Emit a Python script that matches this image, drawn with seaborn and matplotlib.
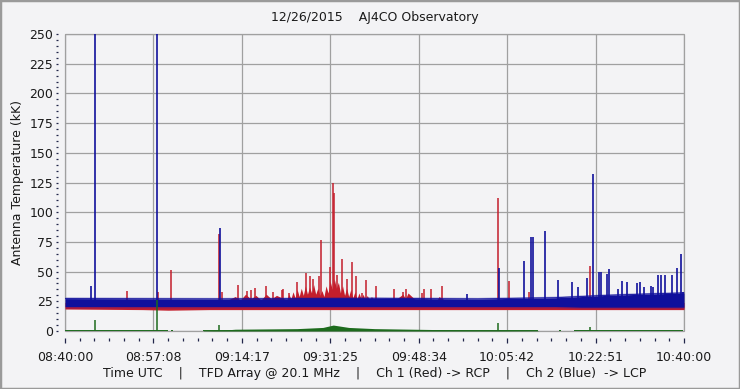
"""
Radio spectrograph style time series: AJ4CO Observatory, 12/26/2015.
Antenna temperature of two polarisation channels plus a third (green) trace.
"""

import numpy as np
import pandas as pd
import matplotlib
import matplotlib.pyplot as plt
from matplotlib.patches import Rectangle
import seaborn as sns

matplotlib.use("Agg")

# -----------------------------------------------------------------------
# Data (time = minutes after 08:40:00 UTC, values in kK)
# -----------------------------------------------------------------------

TICK_LABELS = ["08:40:00", "08:57:08", "09:14:17", "09:31:25",
               "09:48:34", "10:05:42", "10:22:51", "10:40:00"]

# red channel (RCP): noise band envelope
RED_BAND_MIN  = [0, 15, 20, 28, 31, 33, 34, 35, 36, 37, 38, 39, 40, 41, 42,
                 43.0, 43.4, 43.8, 44.2, 44.6, 45.0, 45.4, 45.8, 46.2, 46.6, 47.0, 47.4,
                 47.8, 48.2, 48.6, 49.0, 49.4, 49.8, 50.2, 50.6, 51.0, 51.4, 51.8, 52.2,
                 52.6, 53.0, 53.4, 53.8, 54.2, 54.6, 55.0, 55.4, 55.8, 56.2, 56.6, 57.0,
                 57.4, 57.8, 58.2, 58.6, 59.0, 59.4, 60.0,
                 62, 64, 65.5, 66, 66.5, 68, 70, 72, 72.5, 74, 78, 100, 120]
RED_BAND_LOW  = [18.5, 18, 17.5, 18, 18, 18, 18, 18, 18, 18, 18, 18, 18, 18, 18,
                 18, 18, 18, 18, 18, 18, 18, 18, 18, 18, 18, 18,
                 18, 18, 18, 18, 18, 18, 18, 18, 18, 18, 18, 18,
                 18, 18, 18, 18, 18, 18, 18, 18, 18, 18, 18, 18,
                 18, 18, 18, 18, 18, 18, 18,
                 18, 18, 18, 18, 18, 18, 18, 18, 18, 18, 18, 18, 18]
RED_BAND_HIGH = [24, 24, 24, 24, 25, 29, 26, 31, 27, 30, 26, 31, 27, 30, 28,
                 26, 31, 27, 33, 28, 35, 29, 36, 30, 38, 31, 37,
                 32, 39, 31, 36, 30, 34, 29, 38, 32, 42, 35, 44,
                 36, 41, 32, 38, 30, 36, 29, 35, 28, 33, 27, 32,
                 27, 31, 26, 30, 26, 29, 26,
                 27, 26, 31, 27, 32, 26, 27, 25, 29, 25, 24, 24, 24]

# red channel bursts
RED_SPIKE_MIN = [12.0, 18.0, 20.6, 29.9, 30.4, 33.6, 35.2, 36.0, 36.8, 39.0, 40.3, 42.0, 42.3,
                 43.5, 44.9, 46.7, 47.5, 48.1, 49.2, 49.7, 51.4, 52.0, 52.2, 52.8, 53.7, 54.7,
                 55.6, 56.4, 57.5, 58.4, 60.2, 63.8, 65.6, 66.1, 69.2, 69.5, 71.0, 73.0, 84.0,
                 86.0, 90.0, 101.8]
RED_SPIKE_KK  = [34, 33, 51, 82, 33, 39, 34, 34.5, 36, 38, 33, 34.5, 35,
                 32, 41.5, 49, 46, 44, 46, 77, 54, 125, 116, 47, 61, 44,
                 58, 46, 32, 43, 38, 35, 33, 35, 32, 35, 35.5, 37.5, 112,
                 42, 33, 55]

# blue channel (LCP): noise band envelope
BLUE_BAND_MIN  = [0, 30, 60, 80, 95, 100, 105, 112, 120]
BLUE_BAND_LOW  = [20.5, 20.5, 20.5, 20.5, 20.5, 20, 20, 20, 20]
BLUE_BAND_HIGH = [27.3, 27, 27.5, 27, 28, 29, 30, 31, 32]

# blue channel bursts
BLUE_SPIKE_MIN = [5.0, 5.8, 17.8, 30.0, 78.0, 84.1, 88.9, 90.3, 90.7, 93.1, 95.6, 98.2, 99.5,
                  101.1, 102.3, 103.6, 103.9, 105.0, 105.5, 107.3, 108.0, 108.9, 110.8, 111.5,
                  112.3, 113.6, 113.9, 115.0, 115.5, 116.3, 117.6, 118.7, 119.4, 119.9]
BLUE_SPIKE_KK  = [38, 260, 260, 87, 31, 53, 59, 79, 79, 84, 43, 41, 37,
                  45, 132, 50, 50, 48, 52, 35, 42, 41, 40, 41,
                  37, 38, 37, 47, 47, 47, 47, 53, 65, 33]

# green trace: baseline segments, small envelope and spikes
GREEN_SEG_START = [0, 20.6, 26.8, 95.8, 98.7]
GREEN_SEG_END   = [20.0, 20.9, 91.7, 96.2, 119.9]
GREEN_ENV_MIN   = [26.8, 30, 33, 45, 50, 52, 55, 60, 75, 80, 91.7]
GREEN_ENV_KK    = [0.3, 0.5, 1.5, 2, 3, 5, 3, 2, 1, 0.5, 0.3]
GREEN_SPIKE_MIN = [5.8, 17.8, 29.9, 84.0, 101.8]
GREEN_SPIKE_KK  = [9.3, 26, 5, 7, 3.6]

RED   = "#c41e2c"
BLUE  = "#10109c"
GREEN = "#1d6b1d"
BG    = "#f3f3f5"
GRID  = "#a0a0a0"
TXT   = "#1a1a1a"


def draw_chart(path="out.png"):
    sns.set_style("whitegrid", {"axes.facecolor": BG, "figure.facecolor": BG,
                                "grid.color": GRID, "axes.edgecolor": GRID})
    plt.rcParams["font.family"] = ["DejaVu Sans"]

    fig = plt.figure(figsize=(7.4, 3.89), dpi=100)
    ax = fig.add_axes([65 / 740, 1 - 331 / 389, (684 - 65) / 740, (331 - 34) / 389])

    red_band = pd.DataFrame({"t": RED_BAND_MIN, "lo": RED_BAND_LOW, "hi": RED_BAND_HIGH})
    blue_band = pd.DataFrame({"t": BLUE_BAND_MIN, "lo": BLUE_BAND_LOW, "hi": BLUE_BAND_HIGH})

    # red channel
    ax.fill_between(red_band["t"], red_band["lo"], red_band["hi"], color=RED, lw=0, zorder=2)
    ax.vlines(RED_SPIKE_MIN, 22, RED_SPIKE_KK, color=RED, lw=1.1, zorder=2)

    # blue channel on top, with a soft fringe on both edges
    ax.fill_between(blue_band["t"], blue_band["hi"], blue_band["hi"] + 1.3,
                    color=BLUE, alpha=0.45, lw=0, zorder=3)
    ax.fill_between(blue_band["t"], blue_band["lo"] - 1.2, blue_band["lo"],
                    color="#6a1a70", alpha=0.45, lw=0, zorder=3)
    ax.fill_between(blue_band["t"], blue_band["lo"], blue_band["hi"], color=BLUE, lw=0, zorder=3)
    sns.lineplot(data=blue_band, x="t", y="hi", color=BLUE, lw=0.6, ax=ax, zorder=3)
    ax.vlines(BLUE_SPIKE_MIN, 24, BLUE_SPIKE_KK, color=BLUE, lw=1.2, zorder=3)

    # green trace
    ax.hlines([0.4] * len(GREEN_SEG_START), GREEN_SEG_START, GREEN_SEG_END,
              color=GREEN, lw=1.4, zorder=4)
    ax.fill_between(GREEN_ENV_MIN, 0, GREEN_ENV_KK, color=GREEN, lw=0, zorder=4)
    ax.vlines(GREEN_SPIKE_MIN, 0, GREEN_SPIKE_KK, color=GREEN, lw=1.1, zorder=4)

    # axes
    ax.set_xlim(0, 120)
    ax.set_ylim(0, 250)
    ax.set_xticks(np.linspace(0, 120, len(TICK_LABELS)))
    ax.set_xticklabels(TICK_LABELS)
    ax.set_xticks(np.linspace(0, 120, 6 * (len(TICK_LABELS) - 1) + 1), minor=True)
    ax.set_yticks(np.arange(0, 251, 25))
    ax.set_yticks(np.arange(0, 251, 5), minor=True)
    ax.grid(True, which="major", color=GRID, lw=0.9)
    ax.grid(False, which="minor")

    sns.despine(ax=ax, offset=5)
    ax.spines["left"].set_visible(False)
    ax.spines["bottom"].set_visible(False)
    ax.add_patch(Rectangle((0, 0), 1, 1, transform=ax.transAxes, fill=False,
                           edgecolor=GRID, lw=0.9, zorder=1.5, clip_on=False))

    ax.tick_params(axis="x", which="major", length=3.6, width=0.9, color="#22264a",
                   labelsize=9, labelcolor=TXT, pad=6, bottom=True)
    ax.tick_params(axis="x", which="minor", length=1.8, width=0.9, color="#22264a", bottom=True)
    ax.tick_params(axis="y", which="major", length=1.6, width=0.9, color="#22264a",
                   labelsize=9, labelcolor=TXT, pad=2, left=True)
    ax.tick_params(axis="y", which="minor", length=1.4, width=0.9, color="#22264a", left=True)

    ax.set_xlabel("Time UTC    |    TFD Array @ 20.1 MHz    |    Ch 1 (Red) -> RCP    |    Ch 2 (Blue)  -> LCP",
                  fontsize=9, color=TXT, labelpad=2)
    ax.set_ylabel("Antenna Temperature (kK)", fontsize=9, color=TXT, labelpad=4)
    ax.set_title("12/26/2015    AJ4CO Observatory", fontsize=9, color=TXT, pad=9)

    fig.patches.append(Rectangle((0, 0), 1, 1, transform=fig.transFigure, fill=False,
                                 edgecolor="#9a9a9a", lw=2.5, zorder=10))

    fig.savefig(path, dpi=100, facecolor=BG)
    plt.close(fig)


if __name__ == "__main__":
    draw_chart()
